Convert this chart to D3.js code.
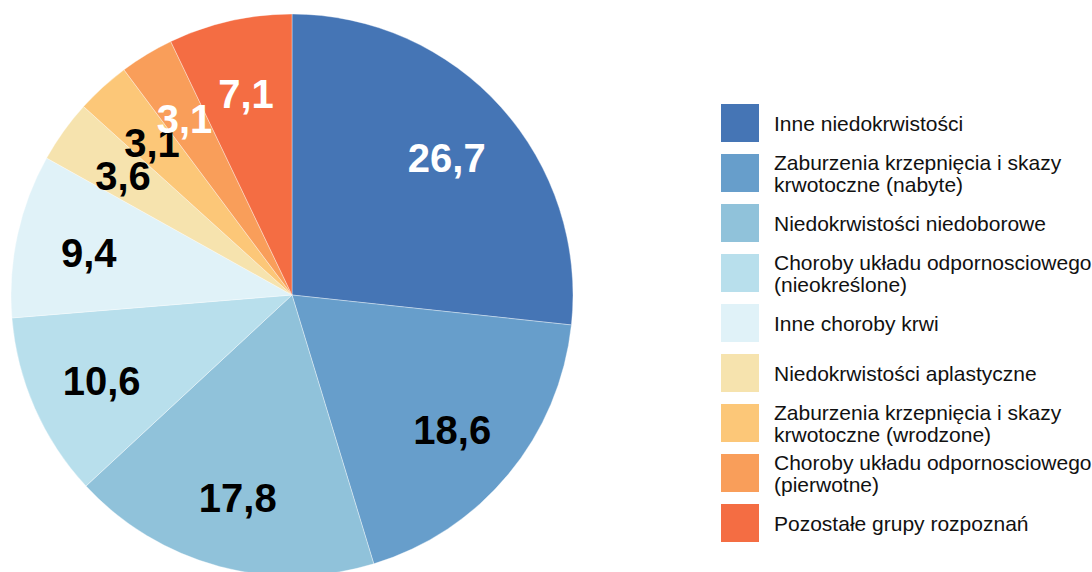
<!DOCTYPE html>
<html><head><meta charset="utf-8">
<script src="https://cdn.jsdelivr.net/npm/d3@7"></script>
<style>html,body{margin:0;padding:0;background:#fff;overflow:hidden}</style>
</head><body>
<svg id="c" width="1092" height="572"></svg>
<script>
const categories = [
  ["Inne niedokrwistości"],
  ["Zaburzenia krzepnięcia i skazy", "krwotoczne (nabyte)"],
  ["Niedokrwistości niedoborowe"],
  ["Choroby układu odpornosciowego", "(nieokreślone)"],
  ["Inne choroby krwi"],
  ["Niedokrwistości aplastyczne"],
  ["Zaburzenia krzepnięcia i skazy", "krwotoczne (wrodzone)"],
  ["Choroby układu odpornosciowego", "(pierwotne)"],
  ["Pozostałe grupy rozpoznań"]
];
const values = [26.7, 18.6, 17.8, 10.6, 9.4, 3.6, 3.1, 3.1, 7.1];
const colors = ["#4575b5","#679ecb","#90c2da","#b8dfec","#e0f2f8","#f6e3ae","#fcc778","#f99e5a","#f46d43"];
const labelColors = ["#fff","#000","#000","#000","#000","#000","#000","#fff","#fff"];

const svg = d3.select("#c");
const cx = 292, cy = 295, R = 281;
const data = values.map((v,i)=>({v,i}));
const pie = d3.pie().value(d=>d.v).sort(null);
const arcs = pie(data);
const arc = d3.arc().innerRadius(0).outerRadius(R);
const labelArc = d3.arc().innerRadius(208).outerRadius(208);
const g = svg.append("g").attr("transform",`translate(${cx},${cy})`);
g.selectAll("path").data(arcs).join("path")
  .attr("d",arc).attr("fill",d=>colors[d.data.i])
  .attr("stroke","#fff").attr("stroke-width",0.6).attr("stroke-opacity",0.6);
const fmt = v => d3.format(".1f")(v).replace(".", ",");
g.selectAll("text").data(arcs).join("text")
  .attr("transform",d=>`translate(${labelArc.centroid(d)})`)
  .attr("text-anchor","middle").attr("dy","0.4em")
  .attr("font-family","'Liberation Sans', Arial, sans-serif")
  .attr("font-weight","bold").attr("font-size",40)
  .attr("fill",d=>labelColors[d.data.i])
  .text(d=>fmt(d.data.v));

const leg = svg.append("g");
const y = d3.scaleBand().domain(d3.range(categories.length)).range([104,554]).paddingInner(0);
categories.forEach((lines,i)=>{
  const y0 = y(i);
  leg.append("rect").attr("x",721).attr("y",y0).attr("width",38).attr("height",38).attr("fill",colors[i]);
  const c = y0+19;
  const t = leg.append("text").attr("font-family","'Liberation Sans', Arial, sans-serif")
    .attr("font-size",21).attr("fill","#111");
  if(lines.length===1){
    t.append("tspan").attr("x",774).attr("y",c+7.5).text(lines[0]);
  } else {
    t.append("tspan").attr("x",774).attr("y",c-3.5).text(lines[0]);
    t.append("tspan").attr("x",774).attr("y",c+18.5).text(lines[1]);
  }
});
</script>
</body></html>
